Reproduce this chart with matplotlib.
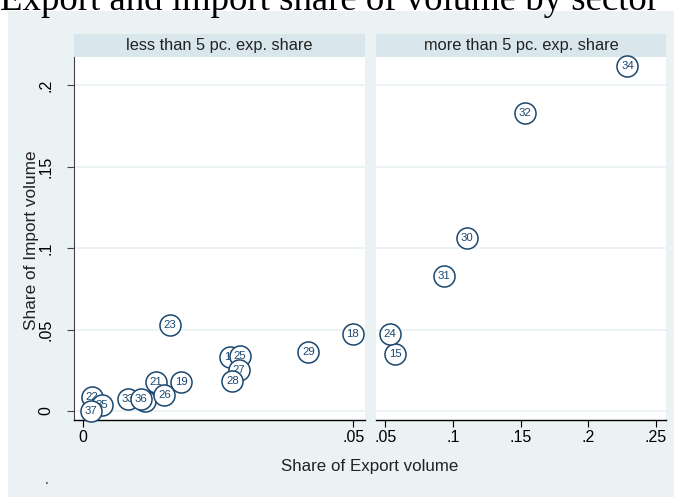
import matplotlib
matplotlib.use("Agg")
import matplotlib.pyplot as plt
from matplotlib.patches import Rectangle

# ---- data ----
left_labels = ["17", "18", "19", "20", "21", "22", "23", "25", "26", "27", "28", "29", "33", "35", "36", "37"]
left_export = [0.0272, 0.0499, 0.0181, 0.0114, 0.0134, 0.0016, 0.0160, 0.0290, 0.0150, 0.0288, 0.0276, 0.0417, 0.0083, 0.0034, 0.0107, 0.0014]
left_import = [0.0329, 0.0471, 0.0176, 0.0063, 0.0180, 0.0088, 0.0528, 0.0337, 0.0098, 0.0252, 0.0184, 0.0360, 0.0075, 0.0035, 0.0074, 0.0002]

right_labels = ["15", "24", "30", "31", "32", "34"]
right_export = [0.0574, 0.0535, 0.1104, 0.0934, 0.1532, 0.2289]
right_import = [0.0352, 0.0472, 0.1061, 0.0828, 0.1826, 0.2118]

panel_titles = ["less than 5 pc. exp. share", "more than 5 pc. exp. share"]
y_ticks = [0, 0.05, 0.1, 0.15, 0.2]
y_ticklabels = ["0", ".05", ".1", ".15", ".2"]
left_xticks = [0, 0.05]
left_xticklabels = ["0", ".05"]
right_xticks = [0.05, 0.1, 0.15, 0.2, 0.25]
right_xticklabels = [".05", ".1", ".15", ".2", ".25"]

title = "Export and import share of volume by sector"
xlabel = "Share of Export volume"
ylabel = "Share of Import volume"

# ---- style ----
BG = "#eaf2f3"
STRIP = "#d9e6eb"
NAVY = "#1a476f"
plt.rcParams['font.family'] = ['Liberation Sans', 'DejaVu Sans']

W, H = 674, 497
fig = plt.figure(figsize=(W / 100, H / 100), dpi=100)
fig.patch.set_facecolor("white")
fig.patches.append(Rectangle((8 / W, 0), 1, (H - 11) / H, transform=fig.transFigure,
                             facecolor=BG, edgecolor="none", zorder=-5))

def fx(px):
    return px / W

def fy(py):
    return (H - py) / H

ax_top, ax_bot = 57, 420
axL = fig.add_axes([fx(74), fy(ax_bot), fx(365 - 74), (ax_bot - ax_top) / H], zorder=2)
axR = fig.add_axes([fx(376), fy(ax_bot), fx(666 - 376), (ax_bot - ax_top) / H], zorder=2)

TICK_FS = 11.5

def draw(ax, xs, ys, labels, xlim, xticks, xticklabels, first):
    ax.set_facecolor("white")
    ax.set_xlim(*xlim)
    ax.set_ylim(-0.0055, 0.2172)
    for i, (x, y, lab) in enumerate(zip(xs, ys, labels)):
        z = 3 + i * 0.01
        ax.scatter([x], [y], s=230, facecolors="white", edgecolors=NAVY,
                   linewidths=1.1, zorder=z, clip_on=False)
        ax.text(x, y, lab, ha="center", va="center", fontsize=8.2, color=NAVY,
                zorder=z + 0.005)
    ax.set_yticks(y_ticks)
    ax.yaxis.grid(True, color=BG, linewidth=1.3)
    ax.xaxis.grid(False)
    ax.set_axisbelow(True)
    ax.set_xticks(xticks)
    ax.set_xticklabels(xticklabels, fontsize=TICK_FS)
    ax.tick_params(axis="x", direction="out", length=5, width=0.8, color="black", pad=2)
    for s in ["top", "right"]:
        ax.spines[s].set_visible(False)
    ax.spines["bottom"].set_color("black")
    ax.spines["bottom"].set_linewidth(1.0)
    if first:
        ax.spines["left"].set_color("#444444")
        ax.spines["left"].set_linewidth(0.8)
        ax.set_yticklabels(y_ticklabels, fontsize=TICK_FS, rotation=90, va="center")
        ax.tick_params(axis="y", direction="out", length=5, width=0.8, color="#444444", pad=10)
    else:
        ax.spines["left"].set_visible(False)
        ax.tick_params(axis="y", left=False, labelleft=False)

draw(axL, left_export, left_import, left_labels, (-0.00172, 0.05217),
     left_xticks, left_xticklabels, True)
draw(axR, right_export, right_import, right_labels, (0.04313, 0.2574),
     right_xticks, right_xticklabels, False)

# strips
for ax, t in zip([axL, axR], panel_titles):
    pos = ax.get_position()
    fig.patches.append(Rectangle((pos.x0, fy(57)), pos.width, (57 - 34) / H,
                                 transform=fig.transFigure, facecolor=STRIP,
                                 edgecolor="none", zorder=1))
    fig.text(pos.x0 + pos.width / 2, fy(45.5), t, ha="center", va="center",
             fontsize=11.8, color="#222222")

fig.text(fx(370), fy(466), xlabel, ha="center", va="center", fontsize=12.2, color="#222222")
fig.text(fx(32), fy(240), ylabel, ha="center", va="center", rotation=90, fontsize=12.4,
         color="#222222")
fig.text(fx(47), fy(480), ".", ha="center", va="center", fontsize=10, color="#222222")
fig.text(fx(330), fy(10), title, ha="center", va="baseline", fontsize=26.5,
         family="Liberation Serif", color="black")

fig.savefig("out.png", dpi=100, facecolor="white")
